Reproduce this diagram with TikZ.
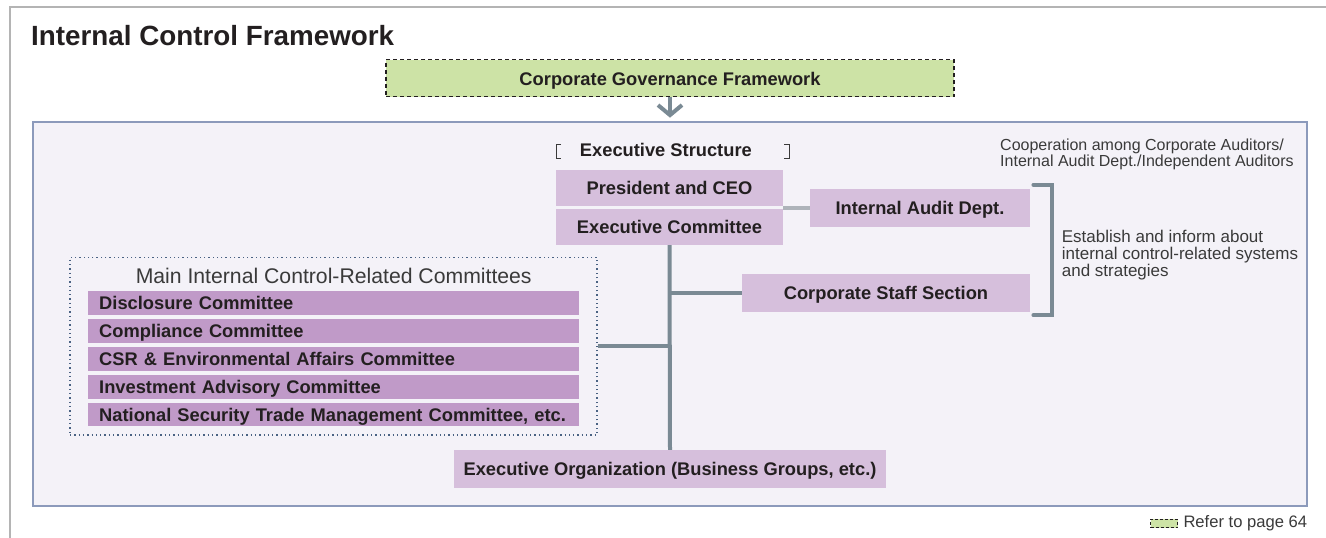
\documentclass[tikz,border=0pt]{standalone}
\usepackage{fontspec}
\setmainfont{Liberation Sans}
\usetikzlibrary{arrows.meta,calc}
\definecolor{txt}{HTML}{231F20}
\definecolor{gtxt}{HTML}{3A3A3A}
\definecolor{lpur}{HTML}{D6BFDC}
\definecolor{dpur}{HTML}{C09AC8}
\definecolor{panelfill}{HTML}{F4F2F8}
\definecolor{panelline}{HTML}{8C9ABB}
\definecolor{conncol}{HTML}{7A8A94}
\definecolor{lconncol}{HTML}{AEB3BA}
\definecolor{cgreen}{HTML}{CDE3A6}
\definecolor{dotcol}{HTML}{4A6283}
\definecolor{framecol}{HTML}{B4B4B4}
\begin{document}
\begin{tikzpicture}[x=1pt,y=-1pt,
  boxtext/.style={font=\fontsize{18.3}{21}\selectfont\bfseries, text=txt},
  box/.style={rectangle, fill=lpur, inner sep=0pt, boxtext, text height=17.5pt, text depth=4pt},
  bar/.style={rectangle, fill=dpur, inner xsep=11pt, inner ysep=0pt, minimum height=23.5pt,
    text width=469pt, align=left, boxtext, text height=17.5pt, text depth=4pt},
  conn/.style={draw=conncol, line width=4pt},
  plaintext/.style={inner sep=0pt, text=gtxt},
]
\useasboundingbox (0,0) rectangle (1326,538);
% outer frame lines
\draw[framecol, line width=2pt] (10,538) -- (10,7) -- (1326,7);
% title
\node[inner sep=0pt, anchor=base west, text=txt, font=\fontsize{27.8}{32}\selectfont\bfseries] (title) at (31,45.5) {Internal Control Framework};
% corporate governance box
\node[rectangle, fill=cgreen, draw=txt, dashed, dash pattern=on 4pt off 3pt, line width=1.2pt,
  minimum width=568pt, minimum height=37pt, inner sep=0pt, boxtext, text height=17.5pt, text depth=4pt] (cgf) at (670,78.3) {Corporate Governance Framework};
% panel
\node[rectangle, fill=panelfill, draw=panelline, line width=2pt, minimum width=1274pt, minimum height=384pt, inner sep=0pt] (panel) at (669.7,313.7) {};
% arrow
\draw[draw=conncol, line width=4pt, -{Straight Barb[length=10pt,width=24pt,line width=4pt]}] (cgf.south) -- ([yshift=3pt]cgf.south |- panel.north);
% executive structure heading
\node[inner sep=0pt, anchor=base, boxtext] (es) at (665.9,156.7) {Executive Structure};
\draw[gtxt, line width=0.9pt] (561,144.5) -- (556,144.5) -- (556,158.5) -- (561,158.5);
\draw[gtxt, line width=0.9pt] (784,144.5) -- (789,144.5) -- (789,158.5) -- (784,158.5);
% executive boxes
\node[box, minimum width=227pt, minimum height=36pt] (pres) at (669.5,188) {President and CEO};
\node[box, minimum width=227pt, minimum height=36pt] (exec) at (669.5,227) {Executive Committee};
\node[box, minimum width=220pt, minimum height=37.5pt] (iad) at (920,208) {Internal Audit Dept.};
\node[box, minimum width=288pt, minimum height=38pt] (staff) at (886,293) {Corporate Staff Section};
\node[box, minimum width=432pt, minimum height=38pt] (eo) at (670,469) {Executive Organization (Business Groups, etc.)};
% committees box
\node[rectangle, draw=dotcol, line width=1.3pt, dash pattern=on 1.3pt off 3pt, minimum width=527pt, minimum height=177.7pt, inner sep=0pt] (cmt) at (333.5,346.2) {};
\node[plaintext, anchor=base, font=\fontsize{21.2}{24}\selectfont] (cmttitle) at (333.7,283.3) {Main Internal Control-Related Committees};
\node[bar] (c1) at (333.7,303) {Disclosure Committee};
\node[bar] (c2) at (333.7,331) {Compliance Committee};
\node[bar] (c3) at (333.7,359) {CSR \& Environmental Affairs Committee};
\node[bar] (c4) at (333.7,387) {Investment Advisory Committee};
\node[bar] (c5) at (333.7,414.5) {National Security Trade Management Committee, etc.};
% connectors
\draw[conn] (exec.south) -- (eo.north);
\draw[conn] (exec.south |- staff.west) -- (staff.west);
\draw[conn] (cmt.east) -- (cmt.east -| exec.south);
\coordinate (pe) at ($(pres.south east)!0.5!(exec.north east)$);
\draw[draw=lconncol, line width=4pt] (pe) -- (pe -| iad.west);
% right bracket
\coordinate (brt) at ([xshift=3pt,yshift=4.3pt]iad.north east);
\coordinate (brb) at ([xshift=3pt,yshift=-3pt]staff.south east);
\draw[conncol, line width=3.5pt, line cap=round]
  (brt) -- ++(19,0) coordinate (brtr) -- (brtr |- brb) -- (brb);
% side texts
\node[plaintext, anchor=base west, font=\fontsize{16}{17}\selectfont] (coop1) at (1000,150) {Cooperation among Corporate Auditors/};
\node[plaintext, anchor=base west, font=\fontsize{16}{17}\selectfont] (coop2) at (1000,166.5) {Internal Audit Dept./Independent Auditors};
\node[plaintext, anchor=base west, font=\fontsize{17}{17}\selectfont] (est1) at (1061.7,242.7) {Establish and inform about};
\node[plaintext, anchor=base west, font=\fontsize{17}{17}\selectfont] (est2) at (1061.7,259.7) {internal control-related systems};
\node[plaintext, anchor=base west, font=\fontsize{17}{17}\selectfont] (est3) at (1061.7,276.7) {and strategies};
% legend
\node[rectangle, fill=cgreen, draw=txt, line width=1pt, dash pattern=on 3pt off 2pt, minimum width=27pt, minimum height=8.5pt, inner sep=0pt] (legicon) at (1164,523.3) {};
\node[plaintext, anchor=base west, font=\fontsize{16.6}{18}\selectfont] (legend) at (1183.3,527.3) {Refer to page 64};
\end{tikzpicture}
\end{document}
